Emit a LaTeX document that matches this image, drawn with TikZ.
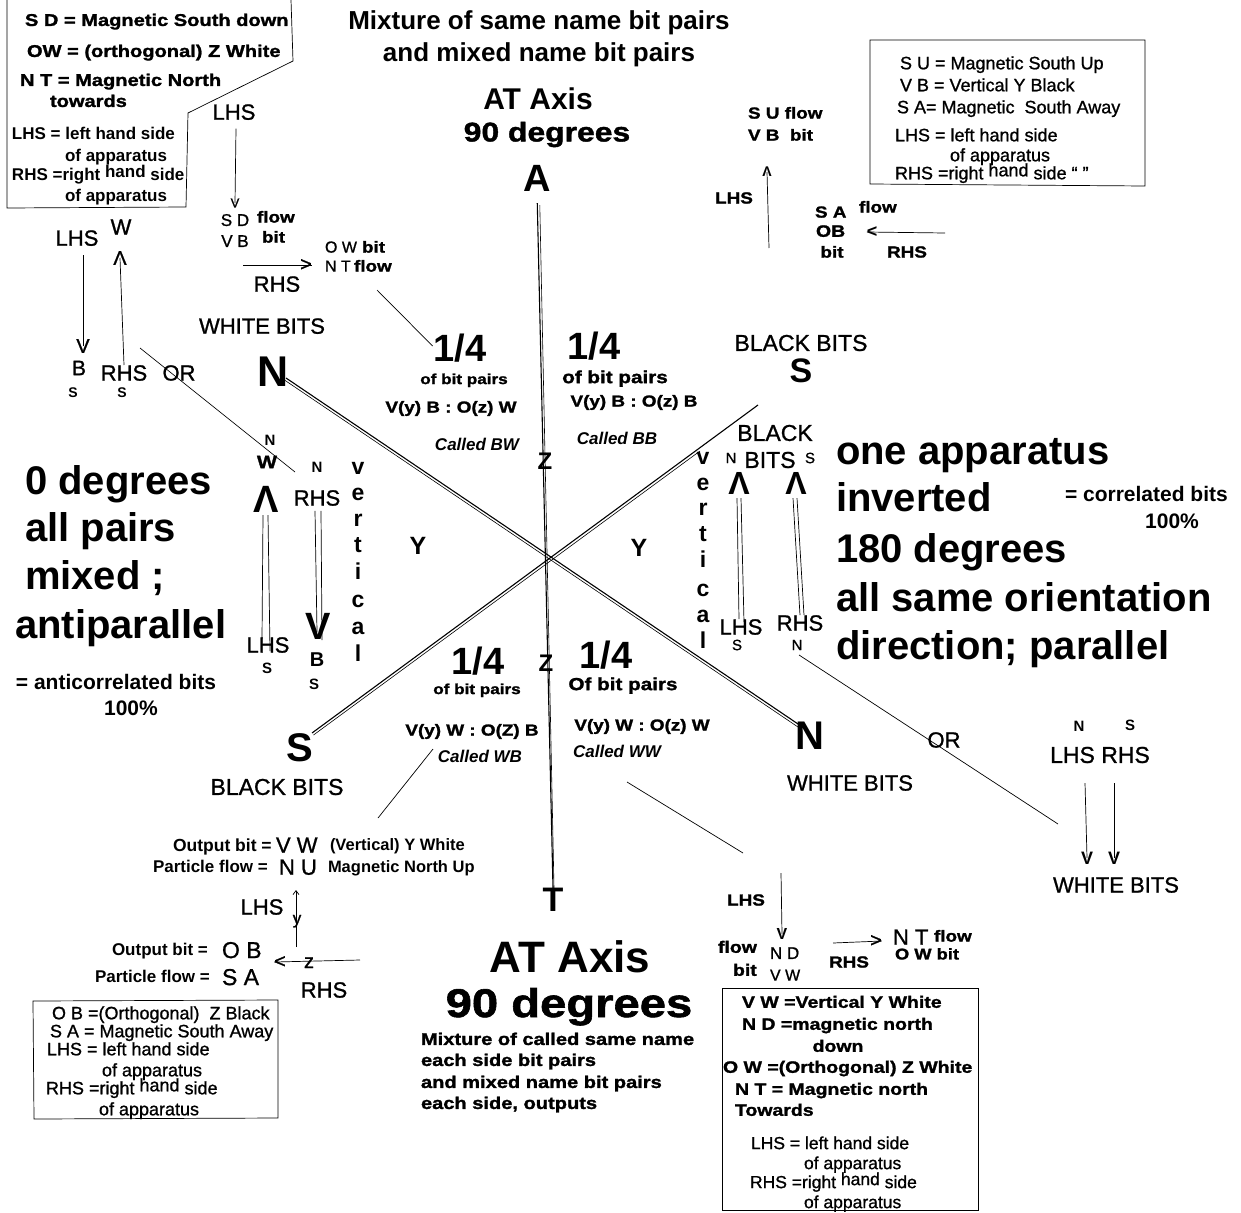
\documentclass[tikz,border=0pt]{standalone}
\usepackage{fontspec}
\usetikzlibrary{arrows.meta}
\setmainfont{Liberation Sans}
\newfontfamily\hvfam[FakeStretch=1.18,FakeBold=1.5]{Liberation Sans Bold}
\newfontfamily\mdfam[FakeBold=1.0]{Liberation Sans}
\newcommand\txR[1]{\fontsize{#1}{#1}\selectfont\mdfam}
\newcommand\txB[1]{\fontsize{#1}{#1}\selectfont\bfseries}
\newcommand\txI[1]{\fontsize{#1}{#1}\selectfont\bfseries\itshape}
\newcommand\txH[1]{\fontsize{#1}{#1}\selectfont\hvfam}
\newcommand\up[1]{\raisebox{3pt}{#1}}
\begin{document}
\begin{tikzpicture}[x=1pt,y=-1pt,
  every node/.style={inner sep=0pt,outer sep=0pt},
  c/.style={anchor=center},
  m/.style={anchor=base},
  w/.style={anchor=base west},
  R/.style={font=\txR{#1},yshift={-0.35pt*#1}},
  B/.style={font=\txB{#1},yshift={-0.35pt*#1}},
  I/.style={font=\txI{#1},yshift={-0.35pt*#1}},
  H/.style={font=\txH{#1},yshift={-0.35pt*#1}},
  ln/.style={line width=0.7pt},
  ax/.style={line width=1.1pt},
  ax2/.style={line width=0.6pt}]
\useasboundingbox (0,0) rectangle (1241,1212);
\fill[white] (0,0) rectangle (1241,1212);

% ---------- top centre ----------
\node[m,B=26] (title1) at (539,20) {Mixture of same name bit pairs};
\node[m,B=26] (title2) at (539,52) {and mixed name bit pairs};
\node[m,B=30] (atax1) at (538,99) {AT Axis};
\node[m,H=27] (deg1) at (547,132) {90 degrees};
\node[c,font=\txB{38}] (A) at (537,178) {A};

% ---------- top-left box ----------
\draw[ln] (7,0) -- (7,208) -- (186,207) -- (188,113) -- (293,61) -- (291,0);
\node[w,H=17] (tl1) at (25,20) {S D = Magnetic South down};
\node[w,H=17] (tl2) at (27,51) {OW = (orthogonal) Z White};
\node[w,H=17] (tl3) at (20,80) {N T = Magnetic North};
\node[w,H=17] (tl4) at (50,101) {towards};
\node[w,B=17] (tl5) at (12,134) {LHS = left hand side};
\node[w,B=17] (tl6) at (65,156) {of apparatus};
\node[w,B=17] (tl7) at (12,175) {RHS =right \up{hand} side};
\node[w,B=17] (tl8) at (65,196) {of apparatus};

% ---------- LHS / RHS upper left ----------
\node[m,R=22] (lhs1) at (234,112) {LHS};
\node[c,font=\txR{13}] (v1) at (235,203) {V};
\draw[ln] ([xshift=2pt,yshift=-9pt]lhs1.base) -- (v1.center);
\node[m,R=17] (sd) at (235,220) {S D};
\node[m,R=17] (vb) at (235,241) {V B};
\node[w,H=16] (flow1) at (257,217) {flow};
\node[w,H=16] (bit1) at (262,237) {bit};
\node[c,font=\txR{20}] (gt1) at (306,265) {>};
\coordinate (rhsA) at (243,265);
\draw[ln] (rhsA) -- (gt1.east);
\node[m,R=22] (rhs1) at (277,284) {RHS};
\node[w,R=16] (ow1) at (325,247) {O W};
\node[w,H=16] (bit2) at (362,247) {bit};
\node[w,R=16] (nt1) at (325,266) {N T};
\node[w,H=16] (flow2) at (354,266) {flow};
\node[m,R=22] (wb1) at (262,326) {WHITE BITS};
\node[c,font=\txB{43}] (Nul) at (273,372) {N};

% ---------- far-left arrows ----------
\node[m,R=22] (lhs2) at (77,238) {LHS};
\node[c,font=\txR{22}] (w2) at (121,227) {W};
\node[c,font=\txR{20}] (v2) at (83,346) {V};
\coordinate (v2top) at (83,255);
\draw[ln] (v2top) -- (v2.center);
\node[c,font=\txR{20}] (lam2) at (120,258) {Λ};
\coordinate (lam2bot) at (124,365);
\draw[ln] (lam2.center) -- (lam2bot);
\node[c,font=\txR{21}] (b2) at (79,368) {B};
\node[c,font=\txB{14}] (s2) at (73,393) {S};
\node[c,font=\txR{22}] (rhs2) at (124,373) {RHS};
\node[c,font=\txB{14}] (s3) at (122,393) {S};
\node[c,font=\txR{22}] (or1) at (179,373) {OR};
\coordinate (orA) at (140,348);
\coordinate (orB) at (295,472);
\draw[ln] (orA) -- (orB);

% ---------- main axes ----------
\node[c,font=\txB{34}] (T) at (553,900) {T};
\draw[ax,shorten <=12pt] (A.south) -- (T.north);
\draw[ax2,shorten <=14pt] ([xshift=2.5pt]A.south) -- ([xshift=1pt]T.north);
\coordinate (na1) at (286,378);
\coordinate (na2) at (801,726);
\coordinate (nb1) at (284.6,380.1);
\coordinate (nb2) at (799.6,728.1);
\draw[ax] (na1) -- (na2);
\draw[ax2] (nb1) -- (nb2);
\coordinate (sa1) at (312,733);
\coordinate (sa2) at (758,405);
\coordinate (sb1) at (313.5,735);
\coordinate (sb2) at (700,451);
\draw[ax] (sa1) -- (sa2);
\draw[ax2] (sb1) -- (sb2);

% ---------- quadrant texts ----------
\node[c,font=\txB{38}] (q1) at (460,348) {1/4};
\node[m,H=14.5] (q1a) at (464,379) {of bit pairs};
\node[m,H=16] (q1b) at (451,407) {V(y) B : O(z) W};
\node[m,I=17] (q1c) at (477,445) {Called BW};
\coordinate (p1) at (377,290);
\draw[ln] (p1) -- ([xshift=-1pt,yshift=2pt]q1.west);

\node[c,font=\txB{38}] (q2) at (594,346) {1/4};
\node[m,H=17.5] (q2a) at (615,377) {of bit pairs};
\node[m,H=16] (q2b) at (634,401) {V(y) B : O(z) B};
\node[m,I=17] (q2c) at (617,439) {Called BB};

\node[c,font=\txB{38}] (q3) at (478,661) {1/4};
\node[m,H=14.5] (q3a) at (477,689) {of bit pairs};
\node[m,H=16] (q3b) at (472,730) {V(y) W : O(Z) B};
\node[m,I=17] (q3c) at (480,757) {Called WB};
\coordinate (p3a) at (433,749);
\coordinate (p3b) at (378,818);
\draw[ln] (p3a) -- (p3b);

\node[c,font=\txB{38}] (q4) at (606,655) {1/4};
\node[m,H=17.5] (q4a) at (623,684) {Of bit pairs};
\node[m,H=16] (q4b) at (642,725) {V(y) W : O(z) W};
\node[m,I=17] (q4c) at (617,752) {Called WW};
\coordinate (p4a) at (627,782);
\coordinate (p4b) at (743,853);
\draw[ln] (p4a) -- (p4b);

\node[c,font=\txB{24}] (z1) at (545,461) {Z};
\node[c,font=\txB{24}] (z2) at (546,663) {Z};
\node[c,font=\txB{25}] (y1) at (418,546) {Y};
\node[c,font=\txB{25}] (y2) at (639,548) {Y};

% ---------- upper right S ----------
\node[c,font=\txR{23}] (bb1) at (801,343) {BLACK BITS};
\node[c,font=\txB{34}] (Sur) at (801,371) {S};

% ---------- right vertical block ----------
\node[c,font=\txR{23}] (black2) at (775,433) {BLACK};
\node[c,font=\txR{23}] (bits2) at (770,460) {BITS};
\node[c,font=\txR{15}] (nr1) at (731,458) {N};
\node[c,font=\txR{15}] (sr1) at (810,458) {S};
\foreach \L/\yy [count=\i] in {v/458,e/484,r/509,t/535,i/561,c/590,a/616,l/642}
  \node[m,font=\txB{23},yshift=-6pt] (vr\i) at (703,\yy) {\L};
\node[c,font=\txB{32}] (lamR1) at (739,483) {Λ};
\node[c,font=\txB{32}] (lamR2) at (796,483) {Λ};
\node[c,font=\txR{22}] (lhs3) at (741,627) {LHS};
\node[c,font=\txR{15}] (sr2) at (737,645) {S};
\node[c,font=\txR{22}] (rhs3) at (800,623) {RHS};
\node[c,font=\txR{15}] (nr2) at (797,645) {N};
\draw[ln] ([xshift=-2pt,yshift=-4pt]lamR1.south) -- ([xshift=-2pt]lhs3.north);
\draw[ln] ([xshift=2pt,yshift=-4pt]lamR1.south) -- ([xshift=3pt,yshift=-3pt]lhs3.north);
\draw[ln] ([xshift=-3pt,yshift=-4pt]lamR2.south) -- ([xshift=0pt]rhs3.north);
\draw[ln] ([xshift=1pt,yshift=-4pt]lamR2.south) -- ([xshift=4pt]rhs3.north);

% ---------- left vertical block ----------
\node[c,font=\txB{15}] (nl1) at (270,440) {N};
\node[c,font=\txH{18}] (wl1) at (267,462) {W};
\node[c,font=\txB{38}] (lamL) at (266,499) {Λ};
\node[c,font=\txR{22}] (lhs4) at (268,645) {LHS};
\node[c,font=\txB{15}] (sl1) at (267,668) {S};
\node[c,font=\txB{15}] (nl2) at (317,467) {N};
\node[c,font=\txR{22}] (rhs4) at (317,498) {RHS};
\node[c,font=\txB{38}] (vl) at (318,626) {V};
\node[c,font=\txB{20}] (bl) at (317,660) {B};
\node[c,font=\txB{15}] (sl2) at (314,684) {S};
\draw[ln] ([xshift=-3pt,yshift=-3pt]lamL.south) -- ([xshift=-6pt,yshift=-2pt]lhs4.north);
\draw[ln] ([xshift=2pt,yshift=-3pt]lamL.south) -- ([xshift=2pt,yshift=-14pt]lhs4.north);
\draw[ln] ([xshift=-2pt,yshift=-5pt]rhs4.south) -- ([xshift=-1pt,yshift=-6pt]vl.center);
\draw[ln] ([xshift=4pt,yshift=-5pt]rhs4.south) -- ([xshift=4pt,yshift=-14pt]vl.center);
\foreach \L/\yy [count=\i] in {v/468,e/494,r/520,t/546,i/573,c/601,a/628,l/655}
  \node[m,font=\txB{23},yshift=-6pt] (vl\i) at (358,\yy) {\L};

% ---------- big left text ----------
\node[w,B=40] (bl1) at (25,480) {0 degrees};
\node[w,B=40] (bl2) at (25,527) {all pairs};
\node[w,B=40] (bl3) at (25,575) {mixed ;};
\node[w,B=40] (bl4) at (15,624) {antiparallel};
\node[m,B=21] (acb) at (116,682) {= anticorrelated bits};
\node[m,B=21] (acp) at (131,708) {100\%};

% ---------- big right text ----------
\node[w,B=40] (br1) at (836,450) {one apparatus};
\node[w,B=40] (br2) at (836,497) {inverted};
\node[w,B=40] (br3) at (836,548) {180 degrees};
\node[w,B=40] (br4) at (836,597) {all same orientation};
\node[w,B=40] (br5) at (836,645) {direction; parallel};
\node[w,B=21] (cb) at (1065,494) {= correlated bits};
\node[m,B=21] (cp) at (1172,521) {100\%};

% ---------- lower S and N ----------
\node[c,font=\txB{40}] (Sll) at (300,748) {S};
\node[c,font=\txR{23}] (bb3) at (277,787) {BLACK BITS};
\node[c,font=\txB{40}] (Nlr) at (810,736) {N};
\node[c,font=\txR{22}] (wb3) at (850,783) {WHITE BITS};
\node[c,font=\txR{22}] (or2) at (944,740) {OR};
\coordinate (or2a) at (799,655);
\coordinate (or2b) at (1058,824);
\draw[ln] (or2a) -- (or2b);

% ---------- far right arrows ----------
\node[c,font=\txB{15}] (nfr) at (1079,726) {N};
\node[c,font=\txB{15}] (sfr) at (1130,725) {S};
\node[c,font=\txR{23}] (lrh) at (1100,755) {LHS RHS};
\node[c,font=\txB{18}] (vfr1) at (1087,858) {V};
\node[c,font=\txB{18}] (vfr2) at (1114,858) {V};
\coordinate (fr1) at (1085,783);
\coordinate (fr2) at (1114,783);
\draw[ln] (fr1) -- (vfr1.center);
\draw[ln] (fr2) -- (vfr2.center);
\node[c,font=\txR{22}] (wb4) at (1116,885) {WHITE BITS};

% ---------- lower left output block ----------
\node[w,B=17.5] (ob1) at (173,845) {Output bit =};
\node[w,R=22] (vw1) at (276,845) {V W};
\node[w,B=16.5] (vyw) at (330,845) {(Vertical) Y White};
\node[w,B=17] (pf1) at (153,867) {Particle flow =};
\node[w,R=22] (nu1) at (279,867) {N U};
\node[w,B=16.5] (mnu) at (328,867) {Magnetic North Up};
\node[c,font=\txR{22}] (lhs5) at (262,907) {LHS};
\coordinate (ya) at (296,947);
\coordinate (yb) at (296,890);
\draw[ln,-{Straight Barb[length=4pt,width=6pt]}] (ya) -- (yb);
\node[m,R=17] (ylab) at (297,918) {y};
\node[w,B=17] (ob2) at (112,950) {Output bit =};
\node[w,R=23] (ob2v) at (222,950) {O B};
\node[w,B=17] (pf2) at (95,977) {Particle flow =};
\node[w,R=23] (sa5) at (222,977) {S A};
\node[c,font=\txR{20}] (lt5) at (280,962) {<};
\coordinate (zl) at (360,960);
\draw[ln] (zl) -- (lt5.west);
\node[m,R=20] (zlab) at (309,961) {z};
\node[c,font=\txR{22}] (rhs5) at (324,990) {RHS};

% bottom-left box
\draw[ln] (33,1001) -- (278,1000) -- (278,1118) -- (34,1119) -- cycle;
\node[w,R=18] (bx1) at (52,1013) {O B =(Orthogonal)\ \ Z Black};
\node[w,R=18] (bx2) at (50,1031) {S A = Magnetic South Away};
\node[w,R=18] (bx3) at (47,1049) {LHS = left hand side};
\node[w,R=18] (bx4) at (102,1070) {of apparatus};
\node[w,R=18] (bx5) at (46,1088) {RHS =right \up{hand} side};
\node[w,R=18] (bx6) at (99,1109) {of apparatus};

% ---------- bottom centre ----------
\node[c,font=\txB{44}] (atax2) at (570,957) {AT Axis};
\node[m,H=40] (deg2) at (569,1003) {90 degrees};
\node[w,H=17] (mx1) at (421,1039) {Mixture of called same name};
\node[w,H=17] (mx2) at (421,1060) {each side bit pairs};
\node[w,H=17] (mx3) at (421,1082) {and mixed name bit pairs};
\node[w,H=17] (mx4) at (421,1103) {each side, outputs};

% ---------- bottom right ----------
\node[c,font=\txH{16}] (lhs6) at (746,900) {LHS};
\node[c,font=\txB{16}] (v6) at (782,934) {V};
\coordinate (v6top) at (781,873);
\draw[ln] (v6top) -- (v6.center);
\node[w,H=16.5] (flow6) at (718,947) {flow};
\node[w,H=16.5] (bit6) at (733,970) {bit};
\node[w,R=17] (nd6) at (770,953) {N D};
\node[w,R=16] (vw6) at (770,975) {V W};
\node[c,font=\txR{20}] (gt6) at (876,941) {>};
\coordinate (r6) at (833,943);
\draw[ln] (r6) -- (gt6.east);
\node[c,font=\txH{16}] (rhs6) at (849,962) {RHS};
\node[w,R=22] (nt6) at (893,937) {N T};
\node[w,H=16] (flow7) at (934,936) {flow};
\node[w,H=15.5] (owb6) at (895,954) {O W bit};

\draw[ln] (722,988) -- (978,988) -- (978,1210) -- (722,1210) -- cycle;
\node[w,H=16.5] (br6a) at (742,1002) {V W =Vertical Y White};
\node[w,H=16.5] (br6b) at (742,1024) {N D =magnetic north};
\node[m,H=16.5] (br6c) at (838,1046) {down};
\node[w,H=16.5] (br6d) at (723,1067) {O W =(Orthogonal) Z White};
\node[w,H=16.5] (br6e) at (735,1089) {N T = Magnetic north};
\node[w,H=16.5] (br6f) at (735,1110) {Towards};
\node[w,R=17.5] (br6g) at (751,1143) {LHS = left hand side};
\node[w,R=17.5] (br6h) at (804,1163) {of apparatus};
\node[w,R=17.5] (br6i) at (750,1182) {RHS =right \up{hand} side};
\node[w,R=17.5] (br6j) at (804,1202) {of apparatus};

% ---------- top right ----------
\node[w,H=16] (su) at (748,113) {S U flow};
\node[w,H=16] (vbb) at (748,135) {V B\ \ bit};
\node[c,font=\txB{14}] (lam7) at (767,172) {Λ};
\coordinate (lam7bot) at (769,248);
\draw[ln] (lam7.center) -- (lam7bot);
\node[c,font=\txH{16}] (lhs7) at (734,198) {LHS};
\node[w,H=16] (sa7) at (815,212) {S A};
\node[w,H=16] (flow8) at (859,207) {flow};
\node[w,H=16.5] (ob7) at (816,231) {OB};
\node[c,font=\txB{18}] (lt7) at (872,232) {<};
\coordinate (r7) at (945,233);
\draw[ln] (r7) -- (lt7.west);
\node[m,H=16] (bit7) at (832,252) {bit};
\node[c,font=\txH{16}] (rhs7) at (907,252) {RHS};

\draw[ln] (870,40) -- (1145,40) -- (1145,186) -- (870,184) -- cycle;
\node[w,R=18] (tr1) at (900,63) {S U = Magnetic South Up};
\node[w,R=18] (tr2) at (900,85) {V B = Vertical Y Black};
\node[w,R=18] (tr3) at (897,107) {S A= Magnetic\ \ South Away};
\node[w,R=18] (tr4) at (895,135) {LHS = left hand side};
\node[w,R=18] (tr5) at (950,155) {of apparatus};
\node[w,R=18] (tr6) at (895,173) {RHS =right \up{hand} side “ ”};
\end{tikzpicture}
\end{document}
